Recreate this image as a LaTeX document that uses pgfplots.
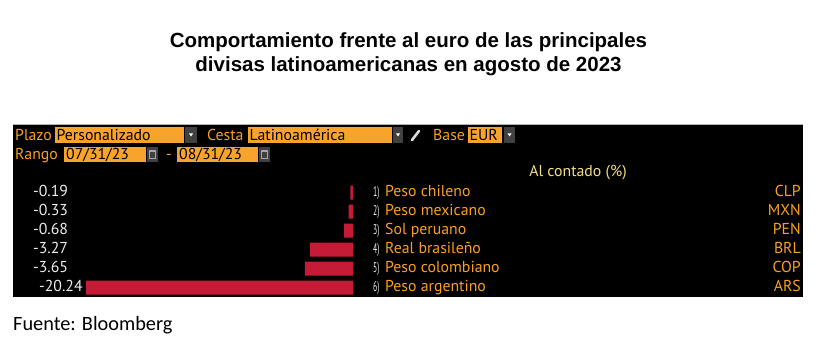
\documentclass[border=0pt]{standalone}
\usepackage{pgfplots}
\pgfplotsset{compat=1.18}
\usepackage{graphicx}
\usepackage{fontspec}
\setmainfont{PT Sans}
\newfontfamily\titlefont{Liberation Sans}
\newfontfamily\srcfont{Carlito}
\definecolor{bbred}{HTML}{C41C36}
\definecolor{bborange}{HTML}{F9A01E}
\definecolor{bbbox}{HTML}{F8A42C}
\definecolor{bbyellow}{HTML}{F2DE8A}
\definecolor{bbgrey}{HTML}{404040}
\definecolor{bbtext}{HTML}{EDEDED}
\newcommand{\bb}{\fontsize{15.8}{17}\selectfont}
\newcommand{\pref}[1]{{\fontsize{14}{14}\selectfont\color{bbtext}\scalebox{0.55}[1]{#1)}}}
\begin{document}
\begin{tikzpicture}
\useasboundingbox (0,0) rectangle (829pt,-355pt);
\begin{scope}[x=1pt,y=-1pt]
\fill[white] (0,0) rectangle (829,355);
\node[font=\titlefont\bfseries\fontsize{20.5}{24}\selectfont, align=center, inner sep=0] at (408.5,54) {Comportamiento frente al euro de las principales\\divisas latinoamericanas en agosto de 2023};
% panel
\fill[black] (13,124.5) rectangle (803,297);
\draw[gray!60, line width=1.2] (13,124.5) -- (803,124.5);
% header row 1
\node[anchor=base west, inner sep=0, text=bborange, font=\bb] at (15,140.5) {Plazo};
\fill[bbbox] (55,127) rectangle (184,143);
\node[anchor=base west, inner sep=0, text=black, font=\bb] at (56.5,140.5) {Personalizado};
\fill[bbgrey] (185,127) rectangle (197,143);
\fill[white] (189,133.5) -- (193,133.5) -- (191,136.5) -- cycle;
\node[anchor=base west, inner sep=0, text=bborange, font=\bb] at (207,140.5) {Cesta};
\fill[bbbox] (248,127) rectangle (392,143);
\node[anchor=base west, inner sep=0, text=black, font=\bb] at (249.5,140.5) {Latinoamérica};
\fill[bbgrey] (393,127) rectangle (403,143);
\fill[white] (396,133.5) -- (400,133.5) -- (398,136.5) -- cycle;
\draw[white!85!black, line width=2.6, line cap=round] (412,140) -- (419,131);
\fill[white!85!black] (410.5,141.5) -- (412.5,138) -- (414,140) -- cycle;
\node[anchor=base west, inner sep=0, text=bborange, font=\bb] at (433,140.5) {Base};
\fill[bbbox] (468,127) rectangle (502,143);
\node[anchor=base west, inner sep=0, text=black, font=\bb] at (469.5,140.5) {EUR};
\fill[bbgrey] (504,127) rectangle (515,143);
\fill[white] (507.5,133.5) -- (511.5,133.5) -- (509.5,136.5) -- cycle;
% header row 2
\node[anchor=base west, inner sep=0, text=bborange, font=\bb] at (15,159.5) {Rango};
\fill[bbbox] (64,147) rectangle (146,162);
\node[anchor=base west, inner sep=0, text=black, font=\bb] at (66,159.5) {07/31/23};
\fill[bbgrey] (147,147) rectangle (158,162);
\draw[gray!70, line width=0.9] (149.5,150.5) rectangle (155.5,158.5);
\draw[gray!70, line width=1.6] (149.5,151.5) -- (155.5,151.5);
\node[anchor=base west, inner sep=0, text=bborange, font=\bb] at (166,159.5) {-};
\fill[bbbox] (177,147) rectangle (258,162);
\node[anchor=base west, inner sep=0, text=black, font=\bb] at (179,159.5) {08/31/23};
\fill[bbgrey] (259,147) rectangle (270,162);
\draw[gray!70, line width=0.9] (261.5,150.5) rectangle (267.5,158.5);
\draw[gray!70, line width=1.6] (261.5,151.5) -- (267.5,151.5);
% column title
\node[anchor=base, inner sep=0, text=bbyellow, font=\bb] at (578,177) {Al contado (\%)};
% values
\foreach \v/\xx [count=\i] in {-0.19/33,-0.33/33,-0.68/33,-3.27/33,-3.65/33,-20.24/39}{
  \node[anchor=base west, inner sep=0, text=bbtext, font=\bb] at (\xx,196.7+19*\i-19) {\v};
}
\foreach \n/\c [count=\i] in {Peso chileno/CLP,Peso mexicano/MXN,Sol peruano/PEN,Real brasileño/BRL,Peso colombiano/COP,Peso argentino/ARS}{
  \node[anchor=base west, inner sep=0] at (373,196.7+19*\i-19) {\pref{\i}};
  \node[anchor=base west, inner sep=0, text=bborange, font=\bb] at (385,196.7+19*\i-19) {\n};
  \node[anchor=base east, inner sep=0, text=bborange, font=\bb] at (801,196.7+19*\i-19) {\c};
}
% source
\node[anchor=base west, inner sep=0, font=\srcfont\fontsize{20.3}{22}\selectfont] at (13,330.7) {Fuente: Bloomberg};
\end{scope}
\begin{axis}[at={(86pt,-183.2pt)}, anchor=north west, scale only axis,
  width=267pt, height=114pt, xmin=-20.24, xmax=0, ymin=0.5, ymax=6.5,
  y dir=reverse, hide axis, xbar, bar width=14pt, clip=false]
\addplot[fill=bbred, draw=none] coordinates {(-0.19,1) (-0.33,2) (-0.68,3) (-3.27,4) (-3.65,5) (-20.24,6)};
\end{axis}
\end{tikzpicture}
\end{document}
